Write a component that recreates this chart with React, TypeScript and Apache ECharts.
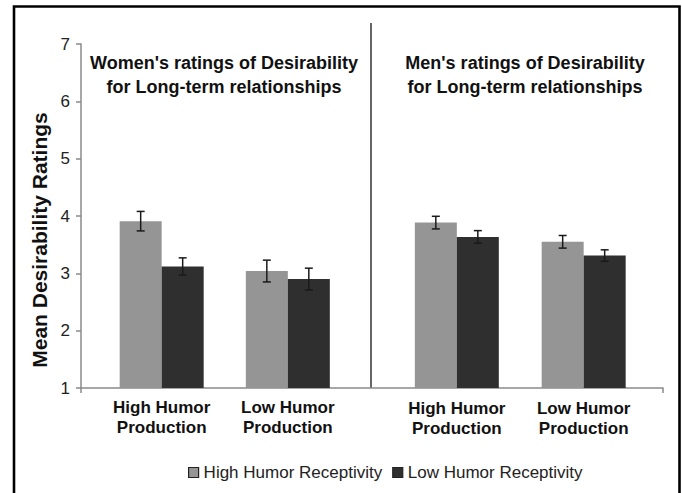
import React, { useEffect, useRef } from 'react';
import * as echarts from 'echarts';

const categories = ['High Humor\nProduction', 'Low Humor\nProduction'];
const seriesNames = ['High Humor Receptivity', 'Low Humor Receptivity'];
const womenHigh = [3.91, 3.04];
const womenHighErr = [0.17, 0.19];
const womenLow = [3.12, 2.9];
const womenLowErr = [0.15, 0.19];
const menHigh = [3.885, 3.55];
const menHighErr = [0.11, 0.11];
const menLow = [3.635, 3.31];
const menLowErr = [0.11, 0.1];
const yMin = 1;
const yMax = 7;
const yInterval = 1;
const panelTitles = [
  "Women's ratings of Desirability\nfor Long-term relationships",
  "Men's ratings of Desirability\nfor Long-term relationships",
];
const yTitle = 'Mean Desirability Ratings';

const FONT = '"Liberation Sans", Arial, sans-serif';
const LIGHT = '#959595';
const DARK = '#2f2f2f';
const BAR_W = 42;

function errSeries(name: string, vals: number[], errs: number[], gridIdx: number, offset: number) {
  return {
    type: 'custom',
    name: name + ' err',
    xAxisIndex: gridIdx,
    yAxisIndex: gridIdx,
    z: 5,
    silent: true,
    data: vals.map((v, i) => [i, v, errs[i]]),
    renderItem: (params: any, api: any) => {
      const i = api.value(0);
      const v = api.value(1);
      const e = api.value(2);
      const top = api.coord([i, v + e]);
      const bot = api.coord([i, v - e]);
      const cx = top[0] + offset;
      const st = { stroke: '#1a1a1a', lineWidth: 1.5 };
      return {
        type: 'group',
        children: [
          { type: 'line', shape: { x1: cx, y1: top[1], x2: cx, y2: bot[1] }, style: st },
          { type: 'line', shape: { x1: cx - 4, y1: top[1], x2: cx + 4, y2: top[1] }, style: st },
          { type: 'line', shape: { x1: cx - 4, y1: bot[1], x2: cx + 4, y2: bot[1] }, style: st },
        ],
      };
    },
  };
}

function barSeries(name: string, vals: number[], gridIdx: number, color: string) {
  return {
    type: 'bar',
    name,
    xAxisIndex: gridIdx,
    yAxisIndex: gridIdx,
    data: vals,
    barWidth: BAR_W,
    barGap: '0%',
    itemStyle: { color },
  };
}

export default function App() {
  const ref = useRef<HTMLDivElement>(null);
  useEffect(() => {
    if (!ref.current) return;
    const chart = echarts.init(ref.current, null, { renderer: 'svg' });
    const hiddenY = (gi: number) => ({
      type: 'value', gridIndex: gi, min: yMin, max: yMax, interval: yInterval, show: false,
    });
    const catX = (gi: number, margin: number) => ({
      type: 'category', gridIndex: gi, data: categories,
      axisLine: { show: false }, axisTick: { show: false },
      axisLabel: {
        fontFamily: FONT, fontSize: 17, fontWeight: 'bold', color: '#111',
        lineHeight: 20, margin, interval: 0,
      },
    });
    chart.setOption({
      animation: false,
      backgroundColor: '#fff',
      grid: [
        { left: 81, right: 19, top: 44, bottom: 105 },
        { left: 98.6, width: 252.3, top: 44, bottom: 105 },
        { left: 393.4, width: 253.7, top: 44, bottom: 105 },
      ],
      xAxis: [
        {
          type: 'category', gridIndex: 0, data: [''],
          axisLine: { lineStyle: { color: '#8a8a8a', width: 1.5 } },
          axisTick: { show: true, length: 5, lineStyle: { color: '#8a8a8a', width: 1.5 } },
          axisLabel: { show: false },
        },
        catX(1, 9),
        catX(2, 10),
      ],
      yAxis: [
        {
          type: 'value', gridIndex: 0, min: yMin, max: yMax, interval: yInterval,
          axisLine: { show: true, lineStyle: { color: '#8a8a8a', width: 1.5 } },
          axisTick: { show: true, length: 5, lineStyle: { color: '#8a8a8a', width: 1.5 } },
          axisLabel: { fontFamily: FONT, fontSize: 17, color: '#222', margin: 11 },
          splitLine: { show: false },
        },
        hiddenY(1),
        hiddenY(2),
      ],
      legend: {
        left: 183, top: 459,
        itemWidth: 10, itemHeight: 10, itemGap: 10,
        textStyle: { fontFamily: FONT, fontSize: 17, color: '#222' },
        data: [
          { name: seriesNames[0], icon: 'rect', itemStyle: { color: LIGHT, borderColor: '#222', borderWidth: 1.2 } },
          { name: seriesNames[1], icon: 'rect', itemStyle: { color: DARK, borderColor: '#222', borderWidth: 1.2 } },
        ],
      },
      series: [
        barSeries(seriesNames[0], womenHigh, 1, LIGHT),
        barSeries(seriesNames[1], womenLow, 1, DARK),
        barSeries(seriesNames[0], menHigh, 2, LIGHT),
        barSeries(seriesNames[1], menLow, 2, DARK),
        errSeries(seriesNames[0], womenHigh, womenHighErr, 1, -BAR_W / 2),
        errSeries(seriesNames[1], womenLow, womenLowErr, 1, BAR_W / 2),
        errSeries(seriesNames[0], menHigh, menHighErr, 2, -BAR_W / 2),
        errSeries(seriesNames[1], menLow, menLowErr, 2, BAR_W / 2),
      ],
      graphic: [
        {
          type: 'rect', silent: true, z: 100,
          shape: { x: 14, y: 6.5, width: 665.5, height: 500 },
          style: { fill: 'none', stroke: '#000', lineWidth: 2.6 },
        },
        {
          type: 'line', silent: true,
          shape: { x1: 371, y1: 23, x2: 371, y2: 388 },
          style: { stroke: '#333', lineWidth: 1.5 },
        },
        {
          type: 'text', x: 224, y: 75,
          style: {
            text: panelTitles[0], align: 'center', verticalAlign: 'middle',
            fontFamily: FONT, fontSize: 18, fontWeight: 'bold', lineHeight: 24, fill: '#111',
          },
        },
        {
          type: 'text', x: 525, y: 75,
          style: {
            text: panelTitles[1], align: 'center', verticalAlign: 'middle',
            fontFamily: FONT, fontSize: 18, fontWeight: 'bold', lineHeight: 24, fill: '#111',
          },
        },
        {
          type: 'text', x: 39, y: 240, rotation: Math.PI / 2,
          style: {
            text: yTitle, align: 'center', verticalAlign: 'middle',
            fontFamily: FONT, fontSize: 21, fontWeight: 'bold', fill: '#111',
          },
        },
      ],
    });
    return () => chart.dispose();
  }, []);
  return (
    <div
      ref={ref}
      style={{ position: 'absolute', left: 0, top: 0, width: 682, height: 493, background: '#fff' }}
    />
  );
}
